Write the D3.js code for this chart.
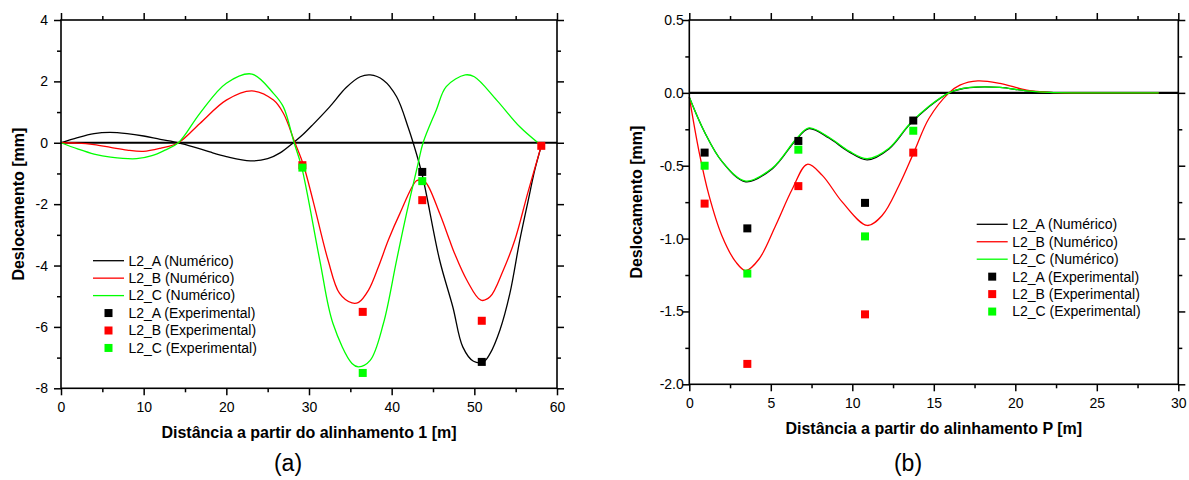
<!DOCTYPE html>
<html>
<head>
<meta charset="utf-8">
<script src="https://cdn.jsdelivr.net/npm/d3@7"></script>
<style>
    body { margin: 0; background: #fff; }
    svg { display: block; font-family: "Liberation Sans", Arial, sans-serif; }
</style>
</head>
<body>
<div class="main"></div>
<script>
// panel (a): distance from alignment 1
const aNumX = [0, 2, 4, 5.9, 8, 10, 12, 14.2, 16, 18, 20, 22.9, 25, 26.5, 28.1, 29.2, 30.5, 32.5, 34.5, 36.2, 37.4, 39, 40.6, 42, 42.6, 43.7, 45.8, 47.4, 48.6, 49.9, 51.1, 51.9, 53.1, 54.3, 55.5, 56.5, 57.3, 58.1]
const aNumY = [0, 0.17, 0.3, 0.34, 0.3, 0.22, 0.11, 0, -0.13, -0.3, -0.45, -0.59, -0.52, -0.33, 0, 0.25, 0.6, 1.17, 1.8, 2.15, 2.21, 2.04, 1.5, 0.5, 0, -1.05, -3.82, -5.35, -6.65, -7.12, -7.14, -6.87, -6.1, -4.91, -3.17, -1.9, -0.9, -0.1]
const bNumX = [0, 2, 4, 6, 8, 9.95, 12, 14.2, 16.8, 20, 23.1, 25.7, 26.9, 28.3, 29.3, 30.5, 32.3, 33.7, 35.2, 36, 37.2, 38.4, 39.6, 41, 43, 43.6, 44.2, 45.8, 47, 47.6, 49.1, 50.8, 51.9, 53.5, 54.9, 56.5, 58.1]
const bNumY = [0, -0.01, -0.06, -0.15, -0.24, -0.28, -0.18, 0, 0.63, 1.39, 1.69, 1.39, 0.96, 0, -0.7, -1.9, -3.82, -4.91, -5.22, -5.2, -4.8, -4.04, -3.17, -2.3, -1.24, -1.22, -1.32, -2.3, -3.17, -3.6, -4.48, -5.13, -5.02, -4.15, -3.17, -1.6, -0.1]
const cNumX = [0, 2, 4, 6, 9.15, 11, 12.5, 14.2, 16.8, 20, 23.1, 25.7, 26.9, 28.2, 29.1, 31.3, 32.9, 35.2, 36, 37.4, 39, 40.6, 41.8, 43.2, 43.8, 45.4, 46.6, 48.9, 50, 52.7, 55.5, 57.7]
const cNumY = [0, -0.2, -0.37, -0.47, -0.52, -0.42, -0.25, 0, 0.96, 1.94, 2.24, 1.61, 1.17, 0, -0.78, -3.82, -5.89, -7.19, -7.3, -7.09, -5.89, -3.82, -2.3, -0.67, 0, 1.07, 1.83, 2.21, 2.15, 1.39, 0.52, 0]

const aExpX = [43.7, 50.9]
const aExpY = [-0.95, -7.14]
const bExpX = [29.2, 36.5, 43.7, 50.9, 58.1]
const bExpY = [-0.73, -5.51, -1.87, -5.8, -0.1]
const cExpX = [29.2, 36.5, 43.7]
const cExpY = [-0.81, -7.5, -1.25]

// panel (b): distance from alignment P
const pANumX = [0, 0.94, 2, 3.46, 5.1, 6.53, 7.34, 8.57, 9.8, 10.92, 12.25, 13.5, 14.7, 15.93, 16.8, 17.7, 19.06, 20.7, 22.1, 24, 28.8]
const pANumY = [-0.03, -0.27, -0.47, -0.61, -0.52, -0.325, -0.245, -0.31, -0.405, -0.46, -0.385, -0.22, -0.096, 0, 0.03, 0.04, 0.037, 0.014, 0.003, 0, 0]
const pBNumX = [0, 0.6, 1.2, 2, 2.85, 3.46, 4.28, 5.3, 6.32, 7.24, 8.16, 9.39, 10.92, 11.84, 12.87, 13.79, 14.7, 15.93, 16.6, 17.7, 19.06, 20.7, 22.1, 24, 28.8]
const pBNumY = [-0.03, -0.405, -0.7, -0.98, -1.16, -1.22, -1.14, -0.91, -0.66, -0.49, -0.566, -0.75, -0.91, -0.84, -0.634, -0.405, -0.176, 0, 0.053, 0.082, 0.065, 0.019, 0.003, 0, 0]
const pCNumX = [0, 0.94, 2, 3.46, 5.1, 6.53, 7.34, 8.57, 9.8, 10.92, 12.25, 13.5, 14.7, 15.93, 16.8, 17.7, 19.06, 20.7, 22.1, 24, 28.8]
const pCNumY = [-0.03, -0.27, -0.47, -0.605, -0.515, -0.32, -0.24, -0.305, -0.4, -0.452, -0.38, -0.215, -0.092, 0, 0.03, 0.041, 0.037, 0.014, 0.003, 0, 0]

const pExpX = [0.94, 3.56, 6.69, 10.78, 13.74]
const pAExpY = [-0.41, -0.93, -0.33, -0.755, -0.19]
const pBExpY = [-0.76, -1.86, -0.64, -1.52, -0.41]
const pCExpY = [-0.5, -1.24, -0.39, -0.985, -0.26]

const seriesNames = ["L2_A", "L2_B", "L2_C"]
const colors = ["#000000", "#ff0000", "#00ff00"]

const zip = (xs, ys) => xs.map((x, i) => [x, ys[i]])
// plain hyphen for negatives, like the original
const hyphen = f => d => f(d).replace("\u2212", "-")

const panels = [
    {
        box: {left: 61, right: 557, top: 20, bottom: 388.3},
        xDomain: [0, 60], yDomain: [-8, 4],
        xMajor: d3.range(0, 61, 10), xMinor: d3.range(5, 60, 10),
        yMajor: d3.range(-8, 5, 2), yMinor: d3.range(-7, 4, 2),
        yFmt: hyphen(d3.format("d")), yPad: 6,
        numeric: [zip(aNumX, aNumY), zip(bNumX, bNumY), zip(cNumX, cNumY)],
        experimental: [zip(aExpX, aExpY), zip(bExpX, bExpY), zip(cExpX, cExpY)],
        xTitle: "Distância a partir do alinhamento 1 [m]",
        yTitleX: 18.5,
        legend: {x: 93, y: 260.7},
        tag: "(a)", tagX: 288
    },
    {
        box: {left: 689.3, right: 1178.3, top: 20, bottom: 384.3},
        xDomain: [0, 30], yDomain: [-2, 0.5],
        xMajor: d3.range(0, 31, 5), xMinor: d3.range(2.5, 30, 5),
        yMajor: d3.range(-2, 0.51, 0.5), yMinor: d3.range(-1.75, 0.5, 0.5),
        yFmt: hyphen(d3.format(".1f")), yPad: -1.5,
        numeric: [zip(pANumX, pANumY), zip(pBNumX, pBNumY), zip(pCNumX, pCNumY)],
        experimental: [zip(pExpX, pAExpY), zip(pExpX, pBExpY), zip(pExpX, pCExpY)],
        xTitle: "Distância a partir do alinhamento P [m]",
        yTitleX: 636.5,
        legend: {x: 976.7, y: 224.3},
        tag: "(b)", tagX: 908
    }
]

const svg = d3.select(".main")
    .append("svg")
    .attr("width", 1189)
    .attr("height", 480)

function drawPanel(p) {
    const b = p.box
    const x = d3.scaleLinear().domain(p.xDomain).range([b.left, b.right])
    const y = d3.scaleLinear().domain(p.yDomain).range([b.bottom, b.top])

    const g = svg.append("g")

    // zero line
    g.append("line")
        .attr("x1", b.left)
        .attr("x2", b.right)
        .attr("y1", y(0))
        .attr("y2", y(0))
        .attr("stroke", "#000")
        .attr("stroke-width", 2.2)

    // numeric curves
    const line = d3.line()
        .x(d => x(d[0]))
        .y(d => y(d[1]))
        .curve(d3.curveCatmullRom.alpha(0.5))

    p.numeric.forEach((pts, i) => {
        g.append("path")
            .attr("d", line(pts))
            .attr("fill", "none")
            .attr("stroke", colors[i])
            .attr("stroke-width", 1.3)
    })

    // experimental points
    p.experimental.forEach((pts, i) => {
        g.selectAll(null)
            .data(pts)
            .join("rect")
            .attr("x", d => x(d[0]) - 4)
            .attr("y", d => y(d[1]) - 4)
            .attr("width", 8)
            .attr("height", 8)
            .attr("fill", colors[i])
    })

    // axes, all ticks pointing out
    const addAxis = (axis, tx, ty, ticks, size, labels) => {
        const a = g.append("g")
            .attr("transform", `translate(${tx},${ty})`)
            .call(axis.tickValues(ticks).tickSize(size))
        a.select(".domain").remove()
        a.selectAll(".tick line").attr("stroke-width", 1.5)
        a.selectAll("text")
            .attr("fill", "#000")
            .attr("font-size", 14)
            .attr("font-family", "Liberation Sans, Arial, sans-serif")
        if (!labels) a.selectAll("text").remove()
        return a
    }

    addAxis(d3.axisBottom(x).tickFormat(d3.format("d")).tickPadding(6.5), 0, b.bottom, p.xMajor, 7, true)
    addAxis(d3.axisBottom(x), 0, b.bottom, p.xMinor, 4, false)
    addAxis(d3.axisTop(x), 0, b.top, p.xMajor, 7, false)
    addAxis(d3.axisTop(x), 0, b.top, p.xMinor, 4, false)
    addAxis(d3.axisLeft(y).tickFormat(p.yFmt).tickPadding(p.yPad), b.left, 0, p.yMajor, 7, true)
    addAxis(d3.axisLeft(y), b.left, 0, p.yMinor, 4, false)
    addAxis(d3.axisRight(y), b.right, 0, p.yMajor, 7, false)
    addAxis(d3.axisRight(y), b.right, 0, p.yMinor, 4, false)

    // frame
    g.append("rect")
        .attr("x", b.left)
        .attr("y", b.top)
        .attr("width", b.right - b.left)
        .attr("height", b.bottom - b.top)
        .attr("fill", "none")
        .attr("stroke", "#000")
        .attr("stroke-width", 1.6)

    // titles
    g.append("text")
        .text(p.xTitle)
        .attr("x", (b.left + b.right) / 2)
        .attr("y", b.bottom + 50)
        .attr("text-anchor", "middle")
        .attr("font-size", 16)
        .attr("font-weight", "bold")

    g.append("text")
        .text("Deslocamento [mm]")
        .attr("transform", `translate(${p.yTitleX},${(b.top + b.bottom) / 2}) rotate(-90)`)
        .attr("dy", "0.35em")
        .attr("text-anchor", "middle")
        .attr("font-size", 16)
        .attr("font-weight", "bold")

    g.append("text")
        .text(p.tag)
        .attr("x", p.tagX)
        .attr("y", 471)
        .attr("text-anchor", "middle")
        .attr("font-size", 23)

    // legend
    const lg = g.append("g")
        .attr("transform", `translate(${p.legend.x},${p.legend.y})`)
    const rowH = 17.45
    seriesNames.forEach((name, i) => {
        lg.append("line")
            .attr("x1", 0)
            .attr("x2", 31)
            .attr("y1", i * rowH)
            .attr("y2", i * rowH)
            .attr("stroke", colors[i])
            .attr("stroke-width", 1.3)
        lg.append("text")
            .text(`${name} (Numérico)`)
            .attr("x", 35.5)
            .attr("y", i * rowH)
            .attr("dy", "0.35em")
            .attr("font-size", 14)
    })
    seriesNames.forEach((name, i) => {
        const r = i + 3
        lg.append("rect")
            .attr("x", 15.5 - 4)
            .attr("y", r * rowH - 4)
            .attr("width", 8)
            .attr("height", 8)
            .attr("fill", colors[i])
        lg.append("text")
            .text(`${name} (Experimental)`)
            .attr("x", 35.5)
            .attr("y", r * rowH)
            .attr("dy", "0.35em")
            .attr("font-size", 14)
    })
}

panels.forEach(drawPanel)
</script>
</body>
</html>
